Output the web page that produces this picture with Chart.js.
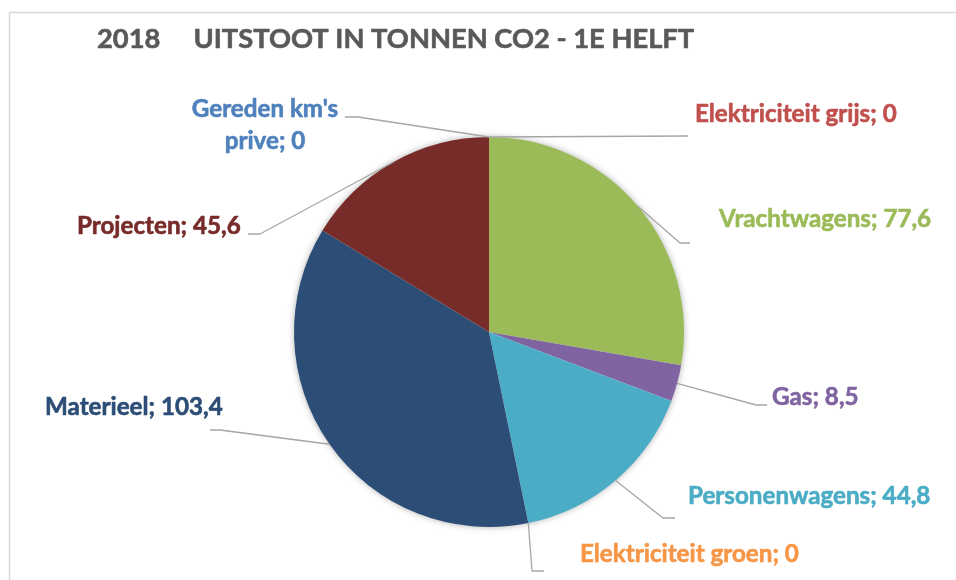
<!DOCTYPE html>
<html>
<head>
<meta charset="utf-8">
<script src="https://cdn.jsdelivr.net/npm/chart.js@4.4.1/dist/chart.umd.min.js"></script>
<style>
  html, body { margin: 0; padding: 0; background: #fff; }
  canvas { display: block; }
</style>
</head>
<body>
<canvas id="co2Chart" width="956" height="580"></canvas>
<script>
// chart data
const chartTitle = '2018     UITSTOOT IN TONNEN CO2 - 1E HELFT';
const categories = ['Elektriciteit grijs', 'Vrachtwagens', 'Gas', 'Personenwagens',
  'Elektriciteit groen', 'Materieel', 'Projecten', "Gereden km's prive"];
const emissions = [0, 77.6, 8.5, 44.8, 0, 103.4, 45.6, 0];

// colours (slice fill / label text)
const sliceColors = ['#C0504D', '#9BBB59', '#8064A2', '#4BACC6', '#F79646', '#2C4D75', '#772C2A', '#4F81BD'];
const labelColors = ['#C0504D', '#9BBB59', '#8064A2', '#4BACC6', '#F79646', '#2C4D75', '#772C2A', '#4F81BD'];

// where each data label sits: leader elbow, leader end, text anchor
const labelSpots = [
  { elbow: [688, 136], end: [688, 136], text: [695, 122], align: 'left' },
  { elbow: [680, 243], end: [690, 243], text: [719, 227], align: 'left' },
  { elbow: [756, 405], end: [767, 405], text: [772, 405], align: 'left' },
  { elbow: [663, 518], end: [675, 518], text: [688, 504], align: 'left' },
  { elbow: [532, 571], end: [544, 571], text: [580, 562], align: 'left' },
  { elbow: [220, 430], end: [210, 430], text: [45, 415], align: 'left' },
  { elbow: [260, 234], end: [248, 234], text: [77, 234], align: 'left' },
  { elbow: [358, 117], end: [345, 117], text: [265, 117], align: 'center', split: 2, lineGap: 32 }
];

const FONT = '"Lato", "Open Sans", sans-serif';

function fmt(v){ return String(v).replace('.', ','); }

// bold text with a hairline stroke so it reads as heavy as the original
function heavyText(ctx, str, x, y, color){
  ctx.fillStyle = color;
  ctx.strokeStyle = color;
  ctx.lineWidth = 0.6;
  ctx.lineJoin = 'round';
  ctx.fillText(str, x, y);
  ctx.strokeText(str, x, y);
}

// soft shadow under the whole pie, drawn before the slices
const pieShadow = {
  id: 'pieShadow',
  beforeDatasetsDraw(chart){
    const arc = chart.getDatasetMeta(0).data[0];
    if (!arc) return;
    const ctx = chart.ctx;
    ctx.save();
    ctx.shadowColor = 'rgba(0,0,0,0.35)';
    ctx.shadowBlur = 7;
    ctx.fillStyle = '#ffffff';
    ctx.beginPath();
    ctx.arc(arc.x, arc.y, arc.outerRadius - 0.5, 0, Math.PI * 2);
    ctx.fill();
    ctx.restore();
  }
};

// frame, title, leader lines and labels
const decorations = {
  id: 'decorations',
  beforeDraw(chart){
    const ctx = chart.ctx;
    ctx.save();
    ctx.strokeStyle = '#D9D9D9';
    ctx.lineWidth = 1.5;
    ctx.beginPath();
    ctx.moveTo(9.5, chart.height);
    ctx.lineTo(9.5, 12.5);
    ctx.lineTo(chart.width, 12.5);
    ctx.stroke();

    ctx.font = 'bold 27.3px ' + FONT;
    ctx.textBaseline = 'alphabetic';
    ctx.textAlign = 'left';
    heavyText(ctx, chartTitle, 97, 48, '#595959');
    ctx.restore();
  },
  afterDatasetsDraw(chart){
    const ctx = chart.ctx;
    const arcs = chart.getDatasetMeta(0).data;
    ctx.save();
    arcs.forEach((arc, i) => {
      const spot = labelSpots[i];
      const mid = (arc.startAngle + arc.endAngle) / 2;
      const sx = arc.x + Math.cos(mid) * arc.outerRadius;
      const sy = arc.y + Math.sin(mid) * arc.outerRadius;

      ctx.strokeStyle = '#A6A6A6';
      ctx.lineWidth = 1.3;
      ctx.beginPath();
      ctx.moveTo(sx, sy);
      ctx.lineTo(spot.elbow[0], spot.elbow[1]);
      ctx.lineTo(spot.end[0], spot.end[1]);
      ctx.stroke();

      const txt = categories[i] + '; ' + fmt(emissions[i]);
      ctx.font = 'bold 24.2px ' + FONT;
      ctx.textBaseline = 'alphabetic';
      ctx.textAlign = spot.align;
      if (spot.split){
        const words = txt.split(' ');
        heavyText(ctx, words.slice(0, spot.split).join(' '), spot.text[0], spot.text[1], labelColors[i]);
        heavyText(ctx, words.slice(spot.split).join(' '), spot.text[0], spot.text[1] + spot.lineGap, labelColors[i]);
      } else {
        heavyText(ctx, txt, spot.text[0], spot.text[1], labelColors[i]);
      }
    });
    ctx.restore();
  }
};

new Chart(document.getElementById('co2Chart').getContext('2d'), {
  type: 'pie',
  data: {
    labels: categories,
    datasets: [{
      data: emissions,
      backgroundColor: sliceColors,
      borderWidth: 0,
      hoverOffset: 0
    }]
  },
  options: {
    responsive: false,
    animation: false,
    devicePixelRatio: 1,
    layout: { padding: { top: 137, bottom: 53, left: 294, right: 272 } },
    plugins: {
      legend: { display: false },
      title: { display: false },
      tooltip: { enabled: false }
    }
  },
  plugins: [pieShadow, decorations]
});
</script>
</body>
</html>
